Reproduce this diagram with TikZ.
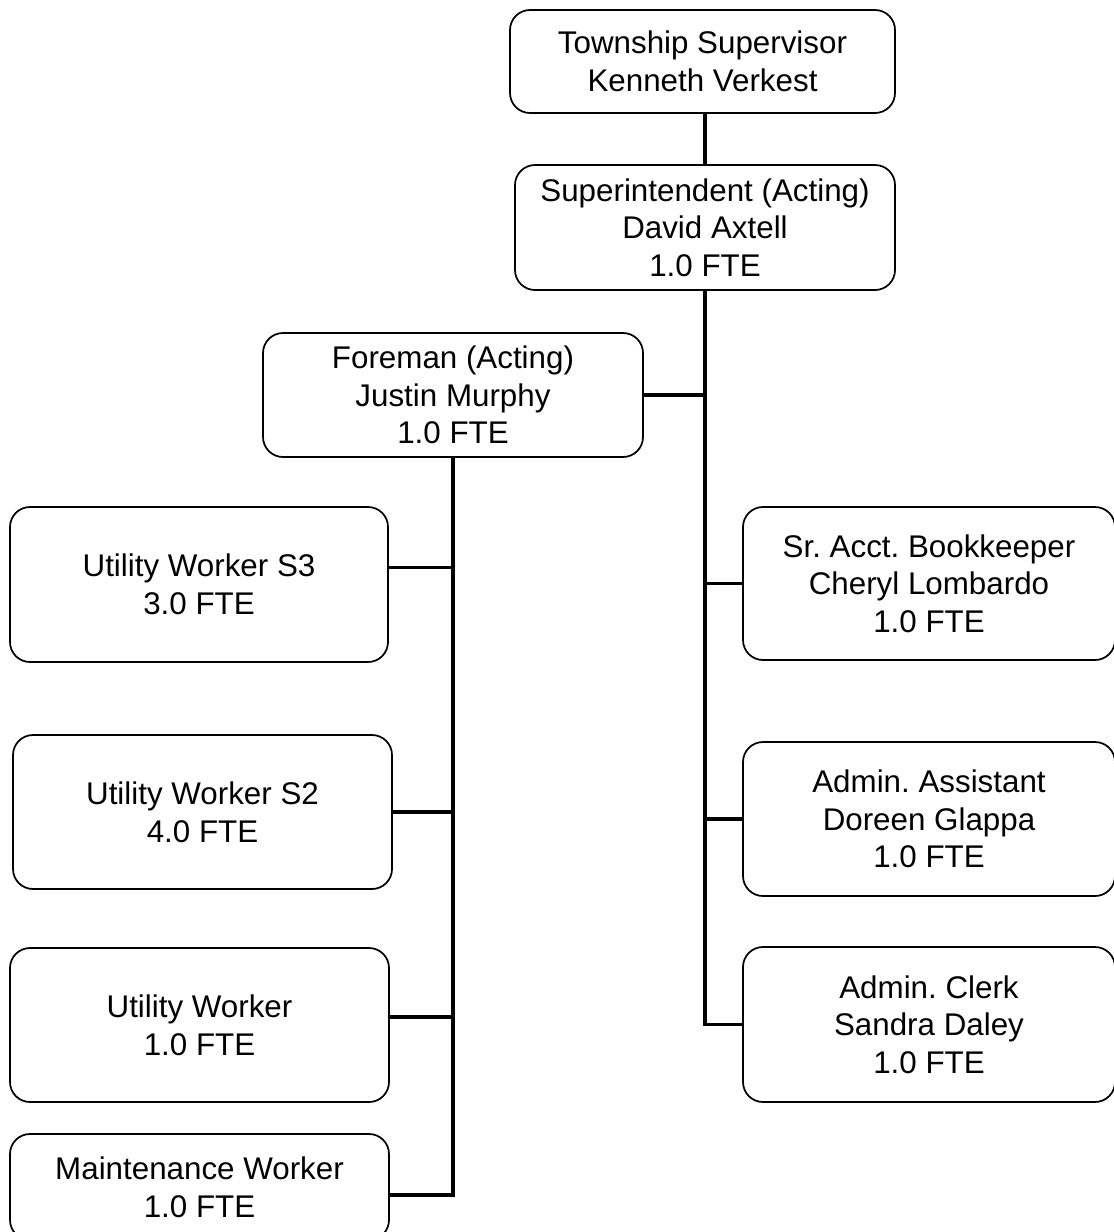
\documentclass[tikz,border=0pt]{standalone}
\usepackage{fontspec}
\setmainfont{Liberation Sans}
\frenchspacing
\begin{document}
\begin{tikzpicture}[x=0.75pt,y=-0.75pt,
  box/.style={draw=black, line width=1.3pt, rounded corners=15pt, align=center,
    inner sep=0pt, font=\fontsize{23.5pt}{28.2pt}\selectfont, text=black},
  link/.style={draw=black, line width=2.5pt}]
\useasboundingbox (0,0) rectangle (1114,1232);
\clip (0,0) rectangle (1114,1232);
\fill[white] (0,0) rectangle (1114,1232);

% top of the chain
\node[box, minimum width=288.75pt, minimum height=77.25pt] (twp) at (702.5,61.5)
  {Township Supervisor\\Kenneth Verkest};
\node[box, minimum width=285pt, minimum height=93.75pt] (sup) at (705,227.5)
  {Superintendent (Acting)\\David Axtell\\1.0 FTE};
\node[box, minimum width=285pt, minimum height=93pt] (fore) at (453,395)
  {Foreman (Acting)\\Justin Murphy\\1.0 FTE};

% field staff under the foreman
\node[box, minimum width=283.5pt, minimum height=116.25pt] (s3) at (199,584.5)
  {Utility Worker S3\\3.0 FTE};
\node[box, minimum width=284.25pt, minimum height=115.5pt] (s2) at (202.5,812)
  {Utility Worker S2\\4.0 FTE};
\node[box, minimum width=284.25pt, minimum height=115.5pt] (uw) at (199.5,1025)
  {Utility Worker\\1.0 FTE};
\node[box, minimum width=284.25pt, minimum height=79.5pt] (mw) at (199.5,1187)
  {Maintenance Worker\\1.0 FTE};

% office staff under the superintendent
\node[box, minimum width=279pt, minimum height=114.75pt] (sr) at (929,583.5)
  {Sr. Acct. Bookkeeper\\Cheryl Lombardo\\1.0 FTE};
\node[box, minimum width=279pt, minimum height=115.5pt] (aa) at (929,819)
  {Admin. Assistant\\Doreen Glappa\\1.0 FTE};
\node[box, minimum width=279pt, minimum height=116.25pt] (ac) at (929,1024.5)
  {Admin. Clerk\\Sandra Daley\\1.0 FTE};

% reporting lines
\draw[link] (sup.north) -- (sup.north |- twp.south);
\draw[link] (sup.south) |- (ac.west);
\draw[link] (fore.east) -- (fore.east -| sup.south);
\draw[link] (sr.west) -- (sr.west -| sup.south);
\draw[link] (aa.west) -- (aa.west -| sup.south);

\draw[link] (fore.south) |- ([yshift=-6pt]mw.east);
\draw[link] ([yshift=13pt]s3.east) -- ([yshift=13pt]s3.east -| fore.south);
\draw[link] (s2.east) -- (s2.east -| fore.south);
\draw[link] ([yshift=6pt]uw.east) -- ([yshift=6pt]uw.east -| fore.south);
\end{tikzpicture}
\end{document}
